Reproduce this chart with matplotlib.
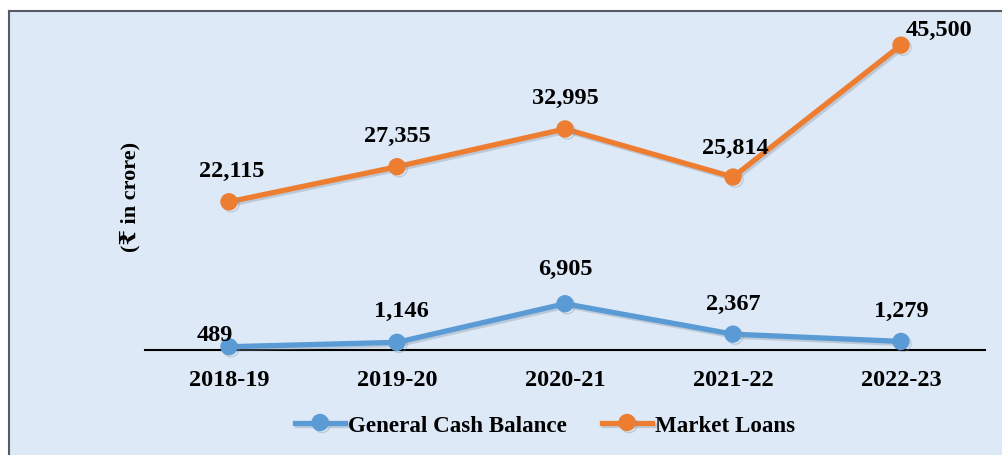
import matplotlib
matplotlib.use("Agg")
import matplotlib.pyplot as plt
import matplotlib.patheffects as pe
from matplotlib.patches import Rectangle

years = ["2018-19", "2019-20", "2020-21", "2021-22", "2022-23"]
general_cash_balance = [489, 1146, 6905, 2367, 1279]
market_loans = [22115, 27355, 32995, 25814, 45500]

# label offsets in pixels (dx, dy) relative to each point
gcb_offsets = [(-14, 12), (4, 32), (0, 35), (0, 31), (0, 31)]
ml_offsets = [(3, 31), (0, 31), (0, 31), (2, 30), (38, 16)]

BLUE = "#5B9BD5"
ORANGE = "#ED7D31"
FAM = ["Liberation Serif", "DejaVu Serif", "DejaVu Sans"]
FS = 17.5

fig = plt.figure(figsize=(10.03, 4.56), dpi=100)
fig.patch.set_facecolor("white")

# background panel with border on left and top
bg = Rectangle((9 / 1003, 0), 1 - 9 / 1003, 1 - 12 / 456, transform=fig.transFigure,
               facecolor="#dde9f6", edgecolor="none", zorder=-10)
fig.patches.append(bg)
fig.add_artist(plt.Line2D([9 / 1003, 9 / 1003], [0, 1 - 12 / 456], transform=fig.transFigure,
                          color="#555c66", lw=1.5))
fig.add_artist(plt.Line2D([9 / 1003, 1], [1 - 12 / 456, 1 - 12 / 456], transform=fig.transFigure,
                          color="#555c66", lw=1.5))

ax = fig.add_axes([145 / 1003, 105 / 456, (985 - 145) / 1003, 335 / 456])
ax.set_facecolor("none")
x = list(range(len(years)))

shadow = [pe.SimpleLineShadow(offset=(1.5, -1.5), shadow_color="#7f8fa0", alpha=0.35), pe.Normal()]
l1, = ax.plot(x, general_cash_balance, color=BLUE, lw=3.8, marker="o", markersize=11.5,
              clip_on=False, zorder=3, label="General Cash Balance", path_effects=shadow)
l2, = ax.plot(x, market_loans, color=ORANGE, lw=3.8, marker="o", markersize=11.5,
              clip_on=False, zorder=3, label="Market Loans", path_effects=shadow)

for xi, v, off in zip(x, general_cash_balance, gcb_offsets):
    ax.annotate(f"{v:,}", (xi, v), xytext=off, textcoords="offset pixels", ha="center",
                va="center", fontsize=FS, fontweight="bold", family=FAM, color="black")
for xi, v, off in zip(x, market_loans, ml_offsets):
    ax.annotate(f"{v:,}", (xi, v), xytext=off, textcoords="offset pixels", ha="center",
                va="center", fontsize=FS, fontweight="bold", family=FAM, color="black")

ax.set_xlim(-0.5, len(years) - 0.5)
ax.set_ylim(0, 50000)
ax.set_xticks(x)
ax.set_xticklabels(years, fontsize=FS, fontweight="bold", family=FAM)
ax.tick_params(axis="x", length=0, pad=14)
ax.set_yticks([])
for s in ["left", "right", "top"]:
    ax.spines[s].set_visible(False)
ax.spines["bottom"].set_color("black")
ax.spines["bottom"].set_linewidth(1.5)
ax.spines["bottom"].set_zorder(2)

fig.text(130 / 1003, 1 - 197 / 456, "(₹ in crore)", rotation=90, ha="center", va="center",
         fontsize=16, fontweight="bold", family=FAM)

leg = fig.legend(handles=[l1, l2], loc="center", bbox_to_anchor=(545 / 1003, 30 / 456),
                 ncol=2, frameon=False, handlelength=2.2, columnspacing=1.5, handletextpad=0.12,
                 prop={"family": FAM, "weight": "bold", "size": 16.6})

fig.savefig("out.png", dpi=100, facecolor=fig.get_facecolor())
